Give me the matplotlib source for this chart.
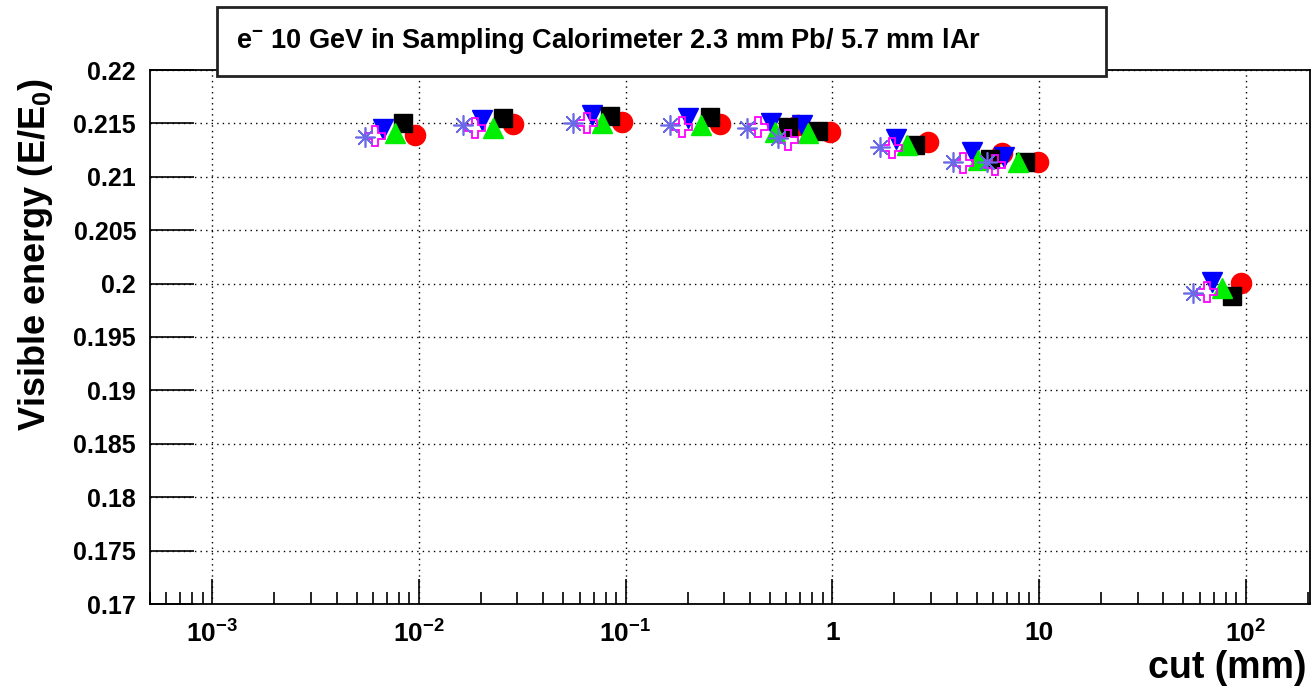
import numpy as np
import matplotlib
matplotlib.use("Agg")
from matplotlib import pyplot as plt
from matplotlib.patches import Rectangle

plt.rcParams['font.family'] = ['Liberation Sans', 'DejaVu Sans']
plt.rcParams['font.weight'] = 'bold'
plt.rcParams['mathtext.fontset'] = 'custom'
plt.rcParams['mathtext.rm'] = 'Liberation Sans:bold'
plt.rcParams['mathtext.bf'] = 'Liberation Sans:bold'
plt.rcParams['mathtext.it'] = 'Liberation Sans:bold'

# cut values (mm), one list per marker series
cut_star = [0.0055, 0.0164, 0.0558, 0.164, 0.387, 0.547, 1.71, 3.85, 5.61, 55.7]
cut_cross = [0.00615, 0.0187, 0.0652, 0.188, 0.438, 0.612, 1.95, 4.30, 6.14, 65.1]
cut_down = [0.00672, 0.0202, 0.0689, 0.201, 0.506, 0.714, 2.04, 4.75, 6.79, 68.9]
cut_up = [0.00768, 0.0229, 0.0771, 0.232, 0.530, 0.764, 2.30, 5.08, 7.93, 76.9]
cut_square = [0.00839, 0.0256, 0.0842, 0.256, 0.612, 0.856, 2.52, 5.81, 8.57, 86.1]
cut_circle = [0.0096, 0.0286, 0.0963, 0.287, 0.684, 0.977, 2.91, 6.64, 9.91, 95.1]

# visible energy fraction E/E0
e_star = [0.21373, 0.21485, 0.21504, 0.21485, 0.21457, 0.21363, 0.21279, 0.21139, 0.21139, 0.19912]
e_cross = [0.21382, 0.21457, 0.21504, 0.21466, 0.21466, 0.21345, 0.21270, 0.21129, 0.21110, 0.19921]
e_down = [0.21448, 0.21532, 0.21579, 0.21551, 0.21504, 0.21485, 0.21354, 0.21232, 0.21185, 0.20015]
e_up = [0.21410, 0.21457, 0.21504, 0.21485, 0.21419, 0.21410, 0.21298, 0.21157, 0.21139, 0.19959]
e_square = [0.21504, 0.21551, 0.21569, 0.21560, 0.21466, 0.21429, 0.21298, 0.21167, 0.21139, 0.19884]
e_circle = [0.21391, 0.21494, 0.21513, 0.21494, 0.21485, 0.21419, 0.21326, 0.21223, 0.21139, 0.20006]

x_ticks = [1e-3, 1e-2, 1e-1, 1, 10, 100]
x_tick_labels = [r'$10^{-3}$', r'$10^{-2}$', r'$10^{-1}$', '1', '10', r'$10^{2}$']
y_ticks = [0.17, 0.175, 0.18, 0.185, 0.19, 0.195, 0.2, 0.205, 0.21, 0.215, 0.22]
y_tick_labels = ['0.17', '0.175', '0.18', '0.185', '0.19', '0.195', '0.2', '0.205', '0.21', '0.215', '0.22']

title = r'e$^{-}$ 10 GeV in Sampling Calorimeter 2.3 mm Pb/ 5.7 mm lAr'

W, H = 1312, 691
fig = plt.figure(figsize=(W / 100, H / 100), dpi=100)
ax = fig.add_axes([150 / W, 1 - 604 / H, (1310 - 150) / W, (604 - 70) / H])

ms = 14.5
# draw order bottom -> top
ax.plot(cut_circle, e_circle, 'o', color='red', ms=ms, mec='red', zorder=3)
ax.plot(cut_down, e_down, 'v', color='blue', ms=ms, mec='blue', zorder=4)
ax.plot(cut_square, e_square, 's', color='black', ms=ms - 1, mec='black', zorder=5)
ax.plot(cut_up, e_up, '^', color='#00ee00', ms=ms, mec='#00ee00', zorder=6)
ax.plot(cut_cross, e_cross, 'P', ms=ms, mfc='none', mec='#ff00ff', mew=1.3, zorder=7)
ax.plot(cut_star, e_star, marker=(8, 2, 0), ls='none', ms=ms, mec='#6a6ae6', mew=1.2, zorder=8)

ax.set_xscale('log')
ax.set_xlim(5e-4, 205)
ax.set_ylim(0.17, 0.22)

ax.set_xticks(x_ticks)
ax.set_xticklabels(x_tick_labels, fontsize=19, fontweight='bold')
ax.set_yticks(y_ticks)
ax.set_yticklabels(y_tick_labels, fontsize=18, fontweight='bold')
ax.tick_params(axis='y', direction='in', length=32, width=1.2, pad=10, right=False)
ax.tick_params(axis='x', which='major', direction='in', length=18, width=1.2, pad=12, top=False)
ax.tick_params(axis='x', which='minor', direction='in', length=9, width=1.2, top=False)

ax.grid(True, which='major', color='black', linestyle=(0, (1, 3)), linewidth=1.0)
for s in ax.spines.values():
    s.set_linewidth(1.3)

ax.set_ylabel(r'Visible energy (E/E$_{0}$)', fontsize=26, fontweight='bold')
ax.yaxis.set_label_coords(-0.082, 0.655)
fig.text(1306 / W, 1 - 668 / H, 'cut (mm)', ha='right', va='center', fontsize=27, fontweight='bold')

# title box
box = Rectangle((217 / W, 1 - 76 / H), (1106 - 217) / W, (76 - 7) / H, transform=fig.transFigure,
                facecolor='white', edgecolor='#222222', linewidth=2, zorder=10)
fig.patches.append(box)
fig.text(236 / W, 1 - 41 / H, title, ha='left', va='center', fontsize=19.5, fontweight='bold', zorder=11)

fig.savefig('out.png', dpi=100)
